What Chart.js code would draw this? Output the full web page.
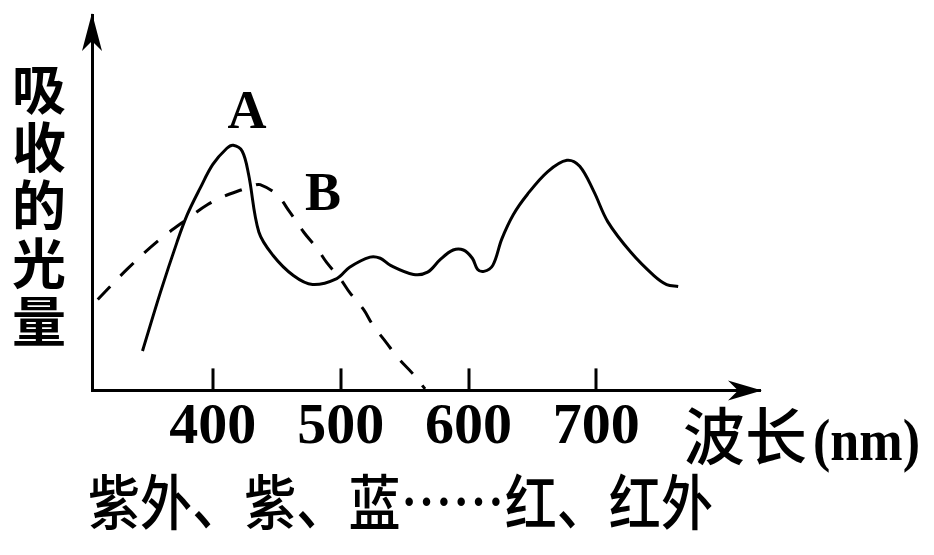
<!DOCTYPE html>
<html>
<head>
<meta charset="utf-8">
<script src="https://cdn.jsdelivr.net/npm/chart.js@4"></script>
<style>
html,body{margin:0;padding:0;background:#fff;}
#wrap{width:934px;height:555px;position:relative;}
</style>
</head>
<body>
<div id="wrap"><canvas id="c" width="934" height="555"></canvas></div>
<script>
// ---- data ----
const wavelengthA = [345,359,372,380,390,400,411,416,423,428,436,447,463,478,497,507,523,531,539,557,568,578,588,596,603,607,612,619,626,635,646,662,677,687,698,709,727,745,755,764];
const absorbA     = [10.5,26.1,39.5,46.8,53.8,60.2,64.5,65.3,63.7,57.5,42.2,36.0,30.6,28.2,29.8,32.8,35.5,35.2,33.3,30.9,31.5,34.9,37.4,37.4,35.2,32.3,31.7,33.3,40.3,46.8,52.2,58.3,61.3,59.7,53.0,44.9,36.8,30.6,28.2,27.7];
const wavelengthB = [310,333,356,380,396,408,423,432,437,450,460,471,482,489,500,507,518,525,536,545,556,566];
const absorbB     = [24.2,32.3,39.5,45.7,49.5,51.6,53.5,54.6,54.8,52.2,47.6,42.2,37.6,34.1,29.6,26.1,21.5,17.5,12.6,8.6,4.6,0.4];
const tickValues  = [400,500,600,700];
const seriesNames = ['A','B'];
const yTitleChars = ['吸','收','的','光','量'];
const xTitle      = '波长 (nm)';
const bandText    = '紫外、紫、蓝……红、红外';
const xRange = [305.5, 828];
const yRange = [0, 100];
// label anchors (data units)
const nameAnchors = [[426.8, 69.9],[486.2, 48.1]];

const toPts = (xs, ys) => xs.map((x,i)=>({x:x, y:ys[i]}));

const decor = {
  id:'decor',
  afterDraw(chart){
    const ctx = chart.ctx, xs = chart.scales.x, ys = chart.scales.y, ca = chart.chartArea;
    ctx.save();
    ctx.fillStyle = '#000'; ctx.strokeStyle = '#000';
    // inner tick marks
    ctx.lineWidth = 3;
    tickValues.forEach(v=>{
      const px = Math.round(xs.getPixelForValue(v));
      ctx.beginPath(); ctx.moveTo(px, ca.bottom); ctx.lineTo(px, ca.bottom-22); ctx.stroke();
    });
    // x arrow
    const xr = ca.right, yb = ca.bottom;
    ctx.beginPath();
    ctx.moveTo(xr+2, yb); ctx.lineTo(xr-32, yb-10); ctx.lineTo(xr-22, yb); ctx.lineTo(xr-32, yb+10); ctx.closePath(); ctx.fill();
    // y arrow
    const xl = ca.left, yt = ca.top;
    ctx.beginPath();
    ctx.moveTo(xl, yt-2); ctx.lineTo(xl-10, yt+36); ctx.lineTo(xl, yt+26); ctx.lineTo(xl+10, yt+36); ctx.closePath(); ctx.fill();
    // series names
    ctx.font = 'bold 54px "Liberation Serif"';
    ctx.textAlign = 'center'; ctx.textBaseline = 'alphabetic';
    seriesNames.forEach((n,i)=>{
      ctx.fillText(n, xs.getPixelForValue(nameAnchors[i][0]), ys.getPixelForValue(nameAnchors[i][1]));
    });
    // y title stacked
    ctx.font = 'bold 54px "Noto Sans CJK SC"';
    ctx.textBaseline = 'middle';
    yTitleChars.forEach((ch,i)=>{ ctx.fillText(ch, 39, 89 + i*58); });
    // x title
    ctx.textAlign = 'left'; ctx.textBaseline = 'alphabetic';
    ctx.font = '500 62px "Noto Sans CJK SC"';
    const cjk = xTitle.split(' ')[0], unit = xTitle.slice(cjk.length);
    ctx.fillText(cjk, 683, 460, 124);
    ctx.font = 'bold 60px "Liberation Serif"';
    ctx.fillText(unit, 800, 460, 120);
    // band text
    ctx.font = '500 60px "Noto Sans CJK SC"';
    ctx.fillText(bandText, 88, 525, 625);
    ctx.restore();
  }
};

new Chart(document.getElementById('c'), {
  type:'line',
  data:{
    datasets:[
      {label:seriesNames[0], data:toPts(wavelengthA, absorbA), borderColor:'#000', borderWidth:3, pointRadius:0, tension:0.35, fill:false},
      {label:seriesNames[1], data:toPts(wavelengthB, absorbB), borderColor:'#000', borderWidth:3, borderDash:[18,15], pointRadius:0, tension:0.35, fill:false}
    ]
  },
  options:{
    responsive:false, animation:false, devicePixelRatio:1,
    layout:{padding:{left:92, right:174, top:15, bottom:89}},
    plugins:{legend:{display:false}, tooltip:{enabled:false}},
    scales:{
      x:{type:'linear', min:xRange[0], max:xRange[1],
         afterBuildTicks(s){ s.ticks = tickValues.map(v=>({value:v})); },
         grid:{display:false, drawTicks:false},
         border:{display:true, color:'#000', width:3},
         ticks:{color:'#000', padding:3, maxRotation:0, autoSkip:false, font:{family:'"Liberation Serif"', size:58, weight:'bold'}}
      },
      y:{type:'linear', min:yRange[0], max:yRange[1],
         grid:{display:false, drawTicks:false},
         border:{display:true, color:'#000', width:3},
         ticks:{display:false}
      }
    }
  },
  plugins:[decor]
});
</script>
</body>
</html>
